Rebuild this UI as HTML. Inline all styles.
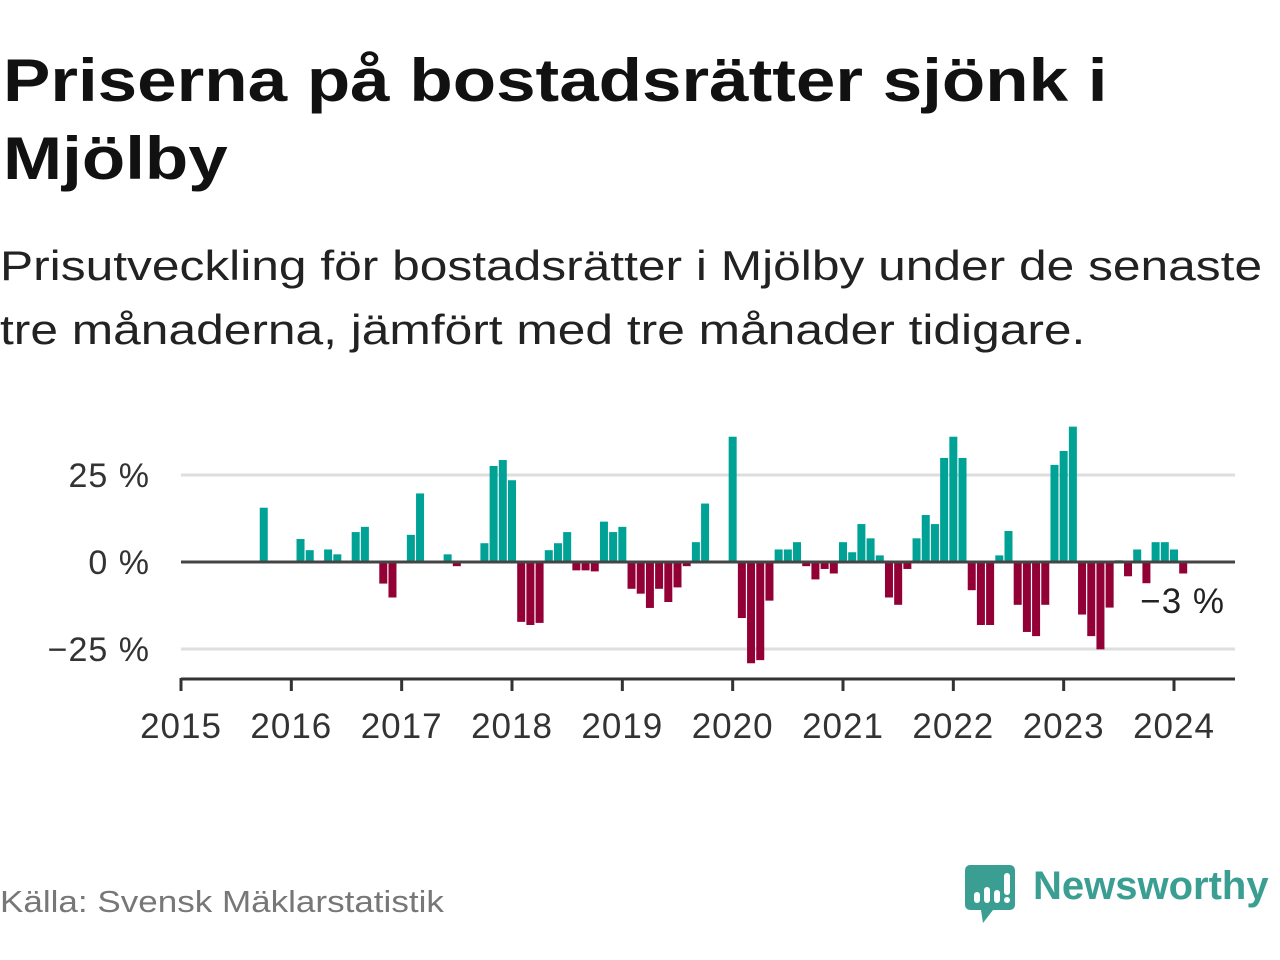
<!DOCTYPE html>
<html><head><meta charset="utf-8"><style>
body{margin:0;background:#fff;width:1280px;height:960px;overflow:hidden;font-family:"Liberation Sans","DejaVu Sans",sans-serif}
h1{position:absolute;left:3px;top:42px;margin:0;font-size:60px;line-height:78px;font-weight:bold;color:#111;transform:scaleX(1.183);transform-origin:0 0;white-space:nowrap}
.sub{position:absolute;left:0;top:234px;font-size:42px;line-height:64px;color:#222;transform:scaleX(1.183);transform-origin:0 0;white-space:nowrap}
.src{position:absolute;left:0;top:884px;font-size:31px;color:#777;transform:scaleX(1.13);transform-origin:0 0;white-space:nowrap}
.logo{position:absolute;left:1033px;top:864px;font-size:40px;font-weight:bold;color:#3a9e92;white-space:nowrap}
</style></head><body>
<h1>Priserna på bostadsrätter sjönk i<br>Mjölby</h1>
<div class="sub">Prisutveckling för bostadsrätter i Mjölby under de senaste<br>tre månaderna, jämfört med tre månader tidigare.</div>
<svg id="chart" width="1280" height="960" style="position:absolute;left:0;top:0"></svg>
<div class="src">Källa: Svensk Mäklarstatistik</div>
<svg style="position:absolute;left:965px;top:865px" width="52" height="60">
<path d="M5 0H45A5 5 0 0 1 50 5V40A5 5 0 0 1 45 45H28L18 58L16 45H5A5 5 0 0 1 0 40V5A5 5 0 0 1 5 0Z" fill="#3a9e92"/>
<rect x="9" y="27" width="6" height="11" rx="3" fill="#fff"/><rect x="19" y="22" width="6" height="16" rx="3" fill="#fff"/><rect x="29" y="25" width="6" height="13" rx="3" fill="#fff"/><rect x="39" y="8" width="6" height="22" rx="3" fill="#fff"/><circle cx="42" cy="35" r="3" fill="#fff"/>
</svg>
<div class="logo">Newsworthy</div>
<script>
const years = ["2015","2016","2017","2018","2019","2020","2021","2022","2023","2024"];
const yTicks = [25, 0, -25];
const yTickLabels = ["25 %","0 %","\u221225 %"];
const values = [null,null,null,null,null,null,null,null,null,15.6,
null,null,null,6.6,3.4,null,3.6,2.2,null,8.6,10.1,null,-6.2,-10.2,null,7.8,19.7,null,null,2.2,-1.2,null,null,5.4,27.6,29.3,
23.5,-17.2,-18.1,-17.5,3.4,5.4,8.6,-2.4,-2.4,-2.7,11.6,8.6,
10.1,-7.7,-9.1,-13.2,-7.7,-11.5,-7.3,-1.2,5.7,16.8,null,null,
36.0,-16.1,-29.1,-28.2,-11.1,3.6,3.6,5.7,-1.2,-5,-2,-3.3,
5.7,2.8,10.9,6.8,1.9,-10.2,-12.3,-2,6.8,13.5,10.9,29.9,
36.0,29.9,-8.1,-18.1,-18.1,1.9,8.9,-12.3,-20.1,-21.3,-12.3,27.9,
31.9,38.9,-15.1,-21.3,-25.1,-13.1,0.5,-4.1,3.6,-6.1,5.7,5.7,
3.6,-3.3];
const lastLabel = "\u22123 %";
const NS="http://www.w3.org/2000/svg";
const svg=document.getElementById('chart');
const x0=181, monthW=(1174-181)/108, xEnd=1235;
const xM=i=>x0+i*monthW;
const yV=v=>562-v*3.48;
function mk(t,a){const e=document.createElementNS(NS,t);for(const k in a)e.setAttribute(k,a[k]);svg.appendChild(e);return e;}
yTicks.forEach((v,k)=>{
  if(v!==0){const g=mk('line',{x1:x0,x2:xEnd,y1:yV(v),y2:yV(v),stroke:'#dedede','stroke-width':3});
  
  }
  const t=mk('text',{x:150,y:yV(v)+12,'text-anchor':'end','font-size':34,fill:'#333','font-family':'Liberation Sans, sans-serif','letter-spacing':1});
  t.textContent=yTickLabels[k];
  
  
});
values.forEach((v,i)=>{
  if(v===null)return;
  const y=Math.min(yV(v),yV(0)),h=Math.abs(yV(v)-yV(0));
  const r=mk('rect',{x:xM(i)-4,y:y,width:8,height:h,fill:v>=0?'#00a296':'#930036'});
  
  
});
const z=mk('line',{x1:x0,x2:xEnd,y1:yV(0),y2:yV(0),stroke:'#444','stroke-width':3});


const ax=mk('line',{x1:x0,x2:xEnd,y1:679,y2:679,stroke:'#333','stroke-width':3});


years.forEach((yr,k)=>{
  const x=xM(k*12);
  const tk=mk('line',{x1:x,x2:x,y1:678,y2:691,stroke:'#333','stroke-width':3});
  
  
  const t=mk('text',{x:x,y:738,'text-anchor':'middle','font-size':35,fill:'#333','font-family':'Liberation Sans, sans-serif','letter-spacing':1});
  t.textContent=yr;
  
  
});
const lt=mk('text',{x:1225,y:613,'text-anchor':'end','font-size':35,fill:'#222','font-family':'Liberation Sans, sans-serif','letter-spacing':1});
lt.textContent=lastLabel;


</script>
</body></html>
